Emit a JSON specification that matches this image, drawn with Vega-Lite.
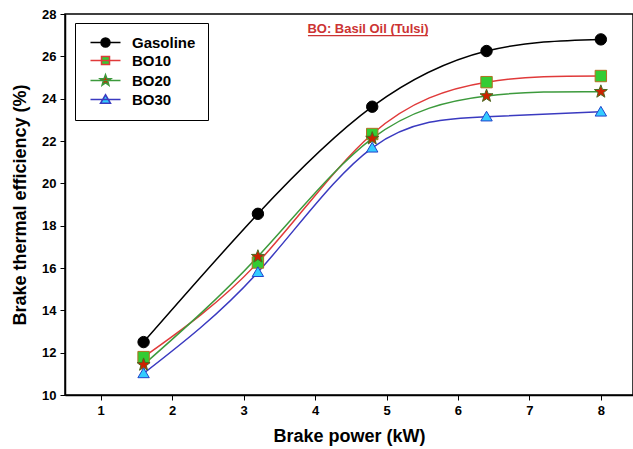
{
  "$schema": "https://vega.github.io/schema/vega-lite/v6.json",
  "width": 568,
  "height": 381,
  "autosize": {"type": "none"},
  "padding": {"left": 65, "top": 14, "right": 0, "bottom": 54},
  "background": "white",
  "config": {
    "font": "Liberation Sans",
    "view": {"stroke": "black", "strokeWidth": 1.5},
    "axis": {
      "labelFont": "Liberation Sans", "labelFontWeight": "bold", "labelFontSize": 13, "labelColor": "black",
      "titleFont": "Liberation Sans", "titleFontWeight": "bold", "titleFontSize": 18, "titleColor": "black",
      "tickColor": "black", "domainColor": "black", "domainWidth": 1.5, "tickSize": 5, "grid": false, "labelPadding": 4
    },
    "legend": {
      "labelFont": "Liberation Sans", "labelFontWeight": "bold", "labelFontSize": 15, "labelColor": "black",
      "strokeColor": "black", "fillColor": "white", "padding": 12, "symbolStrokeWidth": 1.5, "rowPadding": 2
    }
  },
  "datasets": {
    "eff": [
      {"power": 1.6, "eff": 12.5, "fuel": "Gasoline"},
      {"power": 3.2, "eff": 18.56, "fuel": "Gasoline"},
      {"power": 4.8, "eff": 23.62, "fuel": "Gasoline"},
      {"power": 6.4, "eff": 26.25, "fuel": "Gasoline"},
      {"power": 8.0, "eff": 26.8, "fuel": "Gasoline"},
      {"power": 1.6, "eff": 11.79, "fuel": "BO10"},
      {"power": 3.2, "eff": 16.26, "fuel": "BO10"},
      {"power": 4.8, "eff": 22.33, "fuel": "BO10"},
      {"power": 6.4, "eff": 24.78, "fuel": "BO10"},
      {"power": 8.0, "eff": 25.07, "fuel": "BO10"},
      {"power": 1.6, "eff": 11.43, "fuel": "BO20"},
      {"power": 3.2, "eff": 16.54, "fuel": "BO20"},
      {"power": 4.8, "eff": 22.12, "fuel": "BO20"},
      {"power": 6.4, "eff": 24.13, "fuel": "BO20"},
      {"power": 8.0, "eff": 24.33, "fuel": "BO20"},
      {"power": 1.6, "eff": 11.02, "fuel": "BO30"},
      {"power": 3.2, "eff": 15.8, "fuel": "BO30"},
      {"power": 4.8, "eff": 21.68, "fuel": "BO30"},
      {"power": 6.4, "eff": 23.15, "fuel": "BO30"},
      {"power": 8.0, "eff": 23.38, "fuel": "BO30"}
    ],
    "note": [
      {"x": 4.74, "x2": 3.9, "x3": 5.58, "y": 27.12, "yu": 26.98, "label": "BO: Basil Oil (Tulsi)"}
    ]
  },
  "resolve": {"scale": {"shape": "independent", "fill": "independent", "stroke": "independent"}},
  "layer": [
    {
      "data": {"name": "eff"},
      "mark": {"type": "line", "interpolate": "natural", "strokeWidth": 1.5},
      "encoding": {
        "x": {"field": "power", "type": "quantitative", "scale": {"domain": [0.5, 8.45], "nice": false, "zero": false},
              "axis": {"values": [1, 2, 3, 4, 5, 6, 7, 8], "format": "d", "title": "Brake power (kW)", "titlePadding": 10}},
        "y": {"field": "eff", "type": "quantitative", "scale": {"domain": [10, 28], "nice": false, "zero": false},
              "axis": {"values": [10, 12, 14, 16, 18, 20, 22, 24, 26, 28], "title": "Brake thermal efficiency (%)", "titlePadding": 12}},
        "color": {"field": "fuel", "type": "nominal",
                  "scale": {"domain": ["Gasoline", "BO10", "BO20", "BO30"], "range": ["#000000", "#e03a3a", "#3c9a3c", "#3a3ac0"]},
                  "legend": null}
      }
    },
    {
      "data": {"name": "eff"},
      "mark": {"type": "point", "filled": true, "size": 130, "strokeWidth": 1, "opacity": 1},
      "encoding": {
        "x": {"field": "power", "type": "quantitative"},
        "y": {"field": "eff", "type": "quantitative"},
        "shape": {"field": "fuel", "type": "nominal",
                  "scale": {"domain": ["Gasoline", "BO10", "BO20", "BO30"],
                            "range": ["circle", "square",
                                      "M0,-1.2L0.29,-0.4L1.14,-0.37L0.48,0.16L0.71,0.97L0,0.5L-0.71,0.97L-0.48,0.16L-1.14,-0.37L-0.29,-0.4Z",
                                      "M0,-0.95L1,0.75L-1,0.75Z"]},
                  "legend": null},
        "fill": {"field": "fuel", "type": "nominal",
                 "scale": {"domain": ["Gasoline", "BO10", "BO20", "BO30"], "range": ["#000000", "#33cc33", "#cc2200", "#33ccff"]},
                 "legend": null},
        "stroke": {"field": "fuel", "type": "nominal",
                   "scale": {"domain": ["Gasoline", "BO10", "BO20", "BO30"], "range": ["#000000", "#b07020", "#4a6a20", "#2244cc"]},
                   "legend": null}
      }
    },
    {
      "data": {"name": "eff"},
      "transform": [{"filter": "datum.power < 0"}],
      "mark": {"type": "point", "filled": true, "size": 144, "opacity": 1},
      "encoding": {
        "x": {"field": "power", "type": "quantitative"},
        "y": {"field": "eff", "type": "quantitative"},
        "shape": {"field": "fuel", "type": "nominal",
                  "scale": {"domain": ["Gasoline", "BO10", "BO20", "BO30"],
                            "range": ["M-3,0H3M-0.9,0A0.9,0.9,0,1,1,0.9,0A0.9,0.9,0,1,1,-0.9,0Z",
                                      "M-3,0H3M-0.8,-0.8H0.8V0.8H-0.8Z",
                                      "M-3,0H3M0,-1.15L0.28,-0.39L1.09,-0.36L0.46,0.15L0.68,0.93L0,0.48L-0.68,0.93L-0.46,0.15L-1.09,-0.36L-0.28,-0.39Z",
                                      "M-3,0H3M0,-0.95L1,0.75L-1,0.75Z"]},
                  "legend": {"title": null, "orient": "none", "legendX": 10, "legendY": 9, "symbolOffset": 11, "labelOffset": 19}},
        "fill": {"field": "fuel", "type": "nominal",
                 "scale": {"domain": ["Gasoline", "BO10", "BO20", "BO30"], "range": ["#000000", "#33cc33", "#cc2200", "#33ccff"]},
                 "legend": {"title": null, "orient": "none", "legendX": 10, "legendY": 9, "symbolOffset": 11, "labelOffset": 19}},
        "stroke": {"field": "fuel", "type": "nominal",
                   "scale": {"domain": ["Gasoline", "BO10", "BO20", "BO30"], "range": ["#000000", "#e03a3a", "#3c9a3c", "#3a3ac0"]},
                   "legend": {"title": null, "orient": "none", "legendX": 10, "legendY": 9, "symbolOffset": 11, "labelOffset": 19}}
      }
    },
    {
      "data": {"name": "note"},
      "mark": {"type": "text", "font": "Liberation Sans", "fontWeight": "bold", "fontSize": 13, "color": "#cc3333", "align": "center", "baseline": "alphabetic"},
      "encoding": {
        "x": {"field": "x", "type": "quantitative"},
        "y": {"field": "y", "type": "quantitative"},
        "text": {"field": "label"}
      }
    },
    {
      "data": {"name": "note"},
      "mark": {"type": "rule", "color": "#cc3333", "strokeWidth": 1.2},
      "encoding": {
        "x": {"field": "x2", "type": "quantitative"},
        "x2": {"field": "x3"},
        "y": {"field": "yu", "type": "quantitative"}
      }
    }
  ]
}
